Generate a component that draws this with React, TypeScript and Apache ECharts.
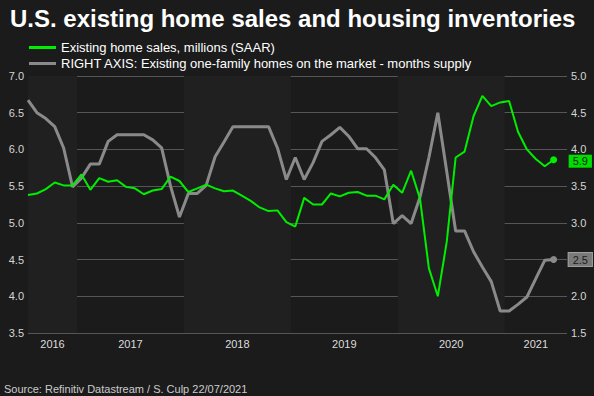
import React, { useEffect, useRef } from "react";
import * as echarts from "echarts";

// Monthly observations, Jul 2016 .. Jun 2021
const START_YEAR = 2016;
const START_MONTH = 7;
const homeSales: number[] = [
  5.38, 5.40, 5.46, 5.55, 5.51, 5.51,
  5.66, 5.45, 5.61, 5.56, 5.58, 5.49, 5.47, 5.39, 5.44, 5.46, 5.63, 5.57,
  5.42, 5.47, 5.52, 5.47, 5.43, 5.44, 5.37, 5.30, 5.21, 5.16, 5.17, 5.01,
  4.95, 5.34, 5.25, 5.25, 5.40, 5.36, 5.41, 5.42, 5.37, 5.37, 5.32, 5.52,
  5.41, 5.71, 5.33, 4.38, 4.00, 4.74, 5.89, 5.97, 6.45, 6.73, 6.59, 6.64,
  6.66, 6.24, 6.00, 5.87, 5.77, 5.86,
];
const monthsSupply: number[] = [
  4.67, 4.50, 4.42, 4.31, 4.02, 3.49,
  3.61, 3.80, 3.80, 4.11, 4.20, 4.20, 4.20, 4.20, 4.13, 4.02, 3.50, 3.08,
  3.40, 3.40, 3.51, 3.90, 4.10, 4.31, 4.31, 4.31, 4.31, 4.31, 4.02, 3.59,
  3.89, 3.59, 3.82, 4.11, 4.20, 4.30, 4.18, 4.01, 4.01, 3.89, 3.72, 2.99,
  3.10, 2.99, 3.35, 3.89, 4.50, 3.70, 2.89, 2.89, 2.61, 2.40, 2.20, 1.80,
  1.80, 1.89, 1.99, 2.24, 2.49, 2.50,
];
const months: string[] = homeSales.map((_, i) => {
  const m = START_MONTH - 1 + i;
  return `${START_YEAR + Math.floor(m / 12)}-${String((m % 12) + 1).padStart(2, "0")}`;
});

const TITLE = "U.S. existing home sales and housing inventories";
const SALES_NAME = "Existing home sales, millions (SAAR)";
const SUPPLY_NAME = "RIGHT AXIS: Existing one-family homes on the market - months supply";
const SOURCE = "Source: Refinitiv Datastream / S. Culp 22/07/2021";

const LEFT_MIN = 3.5, LEFT_MAX = 7.0;
const RIGHT_MIN = 1.5, RIGHT_MAX = 5.0;
const STEP = 0.5;
const X_MAX = 60.5;

const FONT = "'Liberation Sans', Arial, sans-serif";

export default function App() {
  const ref = useRef<HTMLDivElement>(null);
  useEffect(() => {
    if (!ref.current) return;
    const chart = echarts.init(ref.current, undefined, { renderer: "svg" });

    // year bands derived from month labels
    const years = Array.from(new Set(months.map((m) => m.slice(0, 4))));
    const bands = years.map((y, k) => {
      const first = months.findIndex((m) => m.startsWith(y));
      let last = -1;
      months.forEach((m, i) => { if (m.startsWith(y)) last = i; });
      const start = k === 0 ? 0 : first - 0.5;
      const end = k === years.length - 1 ? X_MAX : last + 0.5;
      return { year: y, start, end, center: (start + end) / 2 };
    });
    const lightBands = bands.filter((_, k) => k % 2 === 0);
    const lastIdx = homeSales.length - 1;
    const lastSupply = monthsSupply[lastIdx];

    const endLabelBase = {
      show: true,
      distance: 15,
      formatter: (p: any) => Number(p.value[1]).toFixed(1),
      color: "#1b1b1b",
      fontSize: 11,
      lineHeight: 12,
      padding: [1, 4, 0, 4],
      fontFamily: FONT,
    };

    chart.setOption({
      animation: false,
      backgroundColor: "#1b1b1b",
      textStyle: { fontFamily: FONT },
      title: {
        text: TITLE,
        left: 10,
        top: 6,
        padding: 0,
        textStyle: { color: "#ffffff", fontSize: 24, fontWeight: "bold", fontFamily: FONT },
      },
      legend: {
        orient: "vertical",
        left: 29,
        top: 41,
        padding: 0,
        itemWidth: 27,
        itemHeight: 3,
        itemGap: 3,
        icon: "rect",
        data: [SALES_NAME, SUPPLY_NAME],
        textStyle: { color: "#ffffff", fontSize: 13, fontFamily: FONT },
        selectedMode: false,
      },
      graphic: [
        {
          type: "text",
          left: 4,
          top: 383,
          style: { text: SOURCE, fill: "#cccccc", font: `11px ${FONT}` },
        },
      ],
      grid: { left: 28, right: 27, top: 76, bottom: 63 },
      xAxis: {
        type: "value",
        min: 0,
        max: X_MAX,
        axisLine: { show: false },
        axisTick: { show: false },
        splitLine: { show: false },
        axisLabel: {
          customValues: bands.map((b) => b.center),
          formatter: (v: number) => {
            let best = bands[0];
            bands.forEach((b) => { if (Math.abs(b.center - v) < Math.abs(best.center - v)) best = b; });
            return best.year;
          },
          color: "#dddddd",
          fontSize: 11,
          margin: 5,
          fontFamily: FONT,
        },
      },
      yAxis: [
        {
          type: "value",
          position: "left",
          min: LEFT_MIN,
          max: LEFT_MAX,
          interval: STEP,
          axisLine: { show: false },
          axisTick: { show: false },
          splitLine: { lineStyle: { color: "#565656", width: 1 } },
          axisLabel: { color: "#d6d6d6", fontSize: 11, margin: 4, fontFamily: FONT, formatter: (v: number) => v.toFixed(1) },
        },
        {
          type: "value",
          position: "right",
          min: RIGHT_MIN,
          max: RIGHT_MAX,
          interval: STEP,
          axisLine: { show: false },
          axisTick: { show: false },
          splitLine: { show: false },
          axisLabel: {
            color: "#d6d6d6",
            fontSize: 11,
            lineHeight: 11,
            margin: 4,
            fontFamily: FONT,
            // the end-value box covers the tick label it sits on
            formatter: (v: number) => (Math.abs(v - lastSupply) < 0.2 ? "" : v.toFixed(1)),
          },
        },
      ],
      series: [
        {
          name: SUPPLY_NAME,
          type: "line",
          yAxisIndex: 1,
          data: monthsSupply.map((v, i) => [i, v]),
          symbol: "circle",
          showSymbol: true,
          symbolSize: (_v: any, p: any) => (p.dataIndex === lastIdx ? 7 : 0),
          lineStyle: { color: "#8a8a8a", width: 3 },
          itemStyle: { color: "#8a8a8a" },
          silent: true,
          z: 2,
          endLabel: {
            ...endLabelBase,
            backgroundColor: "#7a7a7a",
            borderColor: "#a0a0a0",
            borderWidth: 1,
          },
          markArea: {
            silent: true,
            itemStyle: { color: "#202020", opacity: 1 },
            data: lightBands.map((b) => [{ xAxis: b.start }, { xAxis: b.end }]),
          },
        },
        {
          name: SALES_NAME,
          type: "line",
          yAxisIndex: 0,
          data: homeSales.map((v, i) => [i, v]),
          symbol: "circle",
          showSymbol: true,
          symbolSize: (_v: any, p: any) => (p.dataIndex === lastIdx ? 7 : 0),
          lineStyle: { color: "#00ee00", width: 2 },
          itemStyle: { color: "#00ee00" },
          silent: true,
          z: 3,
          endLabel: {
            ...endLabelBase,
            offset: [0, 1.5],
            backgroundColor: "#00dd00",
          },
        },
      ],
    });
    return () => chart.dispose();
  }, []);
  return (
    <div
      ref={ref}
      style={{ position: "fixed", left: 0, top: 0, width: 594, height: 396 }}
    />
  );
}
